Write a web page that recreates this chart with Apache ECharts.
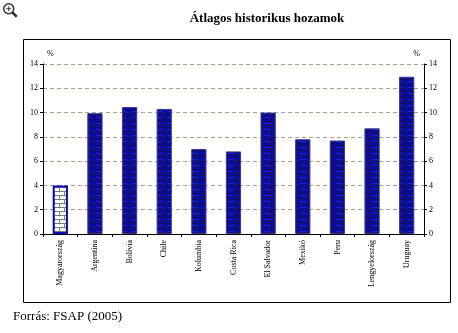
<!DOCTYPE html>
<html>
<head>
<meta charset="utf-8">
<script src="https://cdn.jsdelivr.net/npm/echarts@6/dist/echarts.min.js"></script>
<style>
  html, body { margin: 0; padding: 0; background: #fff; }
  #chart { width: 458px; height: 333px; }
</style>
</head>
<body>
<div id="chart"></div>
<script>
// Average historical returns by country (%)
const countries = ['Magyarország', 'Argentina', 'Bolívia', 'Chile', 'Kolumbia', 'Costa Rica',
                   'El Salvador', 'Mexikó', 'Peru', 'Lengyelország', 'Uruguay'];
const returns = [4.0, 9.95, 10.45, 10.3, 7.0, 6.8, 10.0, 7.8, 7.7, 8.7, 12.95];
const yTicks = [0, 2, 4, 6, 8, 10, 12, 14];

const SERIF = '"Liberation Serif", "DejaVu Serif", serif';

// Horizontal streak texture for the comparison countries
function stripePattern() {
  const c = document.createElement('canvas');
  c.width = 12; c.height = 6;
  const g = c.getContext('2d');
  g.fillStyle = '#0a0aa6'; g.fillRect(0, 0, 12, 6);
  g.fillStyle = '#12125e'; g.fillRect(0, 1, 12, 1);
  g.fillStyle = '#16166e'; g.fillRect(2, 4, 10, 1);
  g.fillStyle = '#2020c4'; g.fillRect(0, 3, 6, 1);
  g.fillStyle = '#0c0c80'; g.fillRect(6, 5, 6, 1);
  return c;
}
// Brick texture for Hungary
function brickPattern() {
  const c = document.createElement('canvas');
  c.width = 10; c.height = 8;
  const g = c.getContext('2d');
  g.fillStyle = '#ffffff'; g.fillRect(0, 0, 10, 8);
  g.fillStyle = '#7a7a7a';
  g.fillRect(0, 3, 10, 1);
  g.fillRect(0, 7, 10, 1);
  g.fillRect(4, 0, 1, 3);
  g.fillRect(9, 4, 1, 3);
  return c;
}

const stripes = { image: stripePattern(), repeat: 'repeat' };
const bricks = { image: brickPattern(), repeat: 'repeat' };

const chart = echarts.init(document.getElementById('chart'), null, { renderer: 'canvas' });

const yAxisCommon = {
  type: 'value', min: 0, max: 14, interval: 2,
  name: '%', nameGap: 6,
  nameTextStyle: { fontFamily: SERIF, fontSize: 8, color: '#000' },
  axisLine: { show: true, lineStyle: { color: '#000', width: 1 } },
  axisTick: { show: true, length: 3, lineStyle: { color: '#000' } },
  axisLabel: { fontFamily: SERIF, fontSize: 8, color: '#000', margin: 5,
               formatter: v => yTicks.includes(v) ? String(v) : '' }
};

chart.setOption({
  animation: false,
  title: {
    text: 'Átlagos historikus hozamok',
    left: 262, top: 7, textAlign: 'center',
    textStyle: { fontFamily: SERIF, fontSize: 13, fontWeight: 'bold', color: '#000' }
  },
  grid: { left: 43, right: 34, top: 64, bottom: 99 },
  xAxis: {
    type: 'category', data: countries,
    axisLine: { lineStyle: { color: '#000', width: 1 } },
    axisTick: { show: true, length: 3, alignWithLabel: false, lineStyle: { color: '#000' } },
    axisLabel: { rotate: 90, interval: 0, fontFamily: SERIF, fontSize: 8, color: '#000', margin: 6 }
  },
  yAxis: [
    Object.assign({}, yAxisCommon, {
      position: 'left',
      nameLocation: 'end',
      nameTextStyle: Object.assign({}, yAxisCommon.nameTextStyle, { align: 'left', padding: [0, 0, 0, 4] }),
      splitLine: { show: true, lineStyle: { color: '#a3a38e', type: [4, 3], width: 1 } }
    }),
    Object.assign({}, yAxisCommon, {
      position: 'right',
      nameLocation: 'end',
      nameTextStyle: Object.assign({}, yAxisCommon.nameTextStyle, { align: 'right', padding: [0, 4, 0, 0] }),
      splitLine: { show: false }
    })
  ],
  series: [{
    type: 'bar',
    yAxisIndex: 0,
    barWidth: '44%',
    data: returns.map((v, i) => ({
      value: v,
      itemStyle: i === 0
        ? { color: bricks, borderColor: '#0c0cb4', borderWidth: 2 }
        : { color: stripes, borderColor: '#3a3a8a', borderWidth: 1 }
    }))
  }],
  graphic: [
    // frame around the chart
    { type: 'rect', shape: { x: 23.5, y: 39.5, width: 427, height: 263 },
      style: { fill: 'none', stroke: '#000', lineWidth: 1 }, z: -1 },
    // source line
    { type: 'text', left: 13, top: 310,
      style: { text: 'Forrás: FSAP (2005)', fontFamily: SERIF, fontSize: 13, fill: '#000' } },
    // magnifier icon
    { type: 'group', left: 3, top: 3, children: [
      { type: 'circle', shape: { cx: 6, cy: 6, r: 5 },
        style: { fill: '#fff', stroke: '#333', lineWidth: 1.5 } },
      { type: 'line', shape: { x1: 9.5, y1: 9.5, x2: 14, y2: 14 },
        style: { stroke: '#333', lineWidth: 2.5 } },
      { type: 'line', shape: { x1: 3.5, y1: 6, x2: 8.5, y2: 6 },
        style: { stroke: '#333', lineWidth: 1 } },
      { type: 'line', shape: { x1: 6, y1: 3.5, x2: 6, y2: 8.5 },
        style: { stroke: '#333', lineWidth: 1 } }
    ] }
  ]
});
</script>
</body>
</html>
